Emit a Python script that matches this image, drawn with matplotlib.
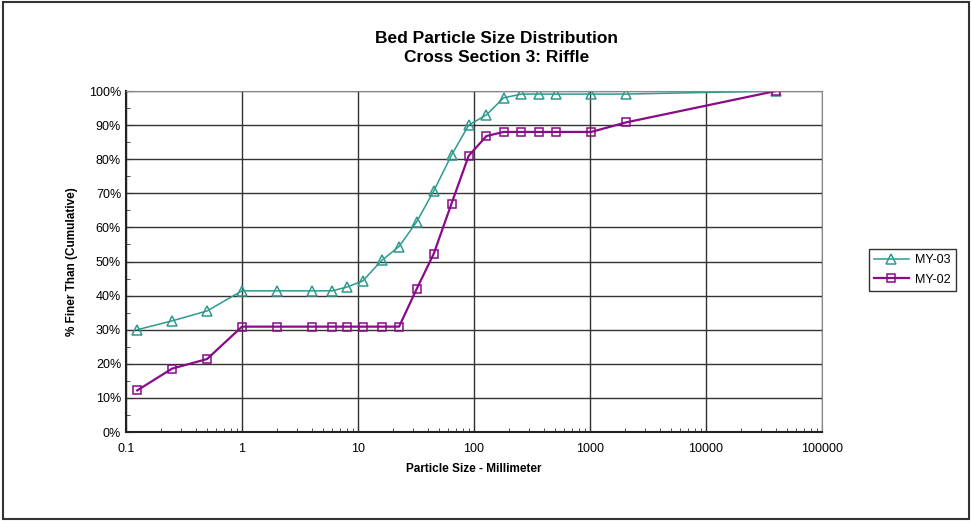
import numpy as np
import matplotlib.pyplot as plt
from matplotlib.ticker import FixedLocator, FuncFormatter, LogLocator, NullFormatter

plt.rcParams['font.family'] = ['Liberation Sans', 'DejaVu Sans']

# sieve sizes (mm) and cumulative percent finer
size = [0.125, 0.25, 0.5, 1, 2, 4, 6, 8, 11, 16, 22.6, 32, 45, 64, 90, 128,
        180, 256, 362, 512, 1024, 2048, 40000]
my03 = [30, 32.6, 35.5, 41.4, 41.4, 41.4, 41.4, 42.5, 44.3, 50.3, 54.4, 61.6,
        70.7, 81.2, 90, 93, 98, 99.1, 99.1, 99.1, 99.1, 99.1, 100]
my02 = [12.2, 18.6, 21.4, 30.9, 30.9, 30.9, 30.9, 30.9, 30.9, 30.9, 30.9, 41.9,
        52.3, 67, 81, 86.8, 88, 88, 88, 88, 88, 90.8, 100]

xticks = [0.1, 1, 10, 100, 1000, 10000, 100000]
xticklabels = ['0.1', '1', '10', '100', '1000', '10000', '100000']

fig = plt.figure(figsize=(9.72, 5.21), dpi=100)
ax = fig.add_axes([0.1296, 0.1708, 0.7161, 0.6545])

ax.plot(size, my03, color='#2e9a8e', lw=1.1, marker='^', ms=7, mfc='none',
        mec='#2e9a8e', mew=1.1, label='MY-03')
ax.plot(size, my02, color='#8a0a8a', lw=1.6, marker='s', ms=6, mfc='none',
        mec='#8a0a8a', mew=1.1, label='MY-02')

ax.set_xscale('log')
ax.set_xlim(0.1, 100000)
ax.set_ylim(0, 100)
ax.xaxis.set_major_locator(FixedLocator(xticks))
ax.xaxis.set_major_formatter(FuncFormatter(lambda v, p: xticklabels[xticks.index(v)] if v in xticks else ''))
ax.xaxis.set_minor_locator(LogLocator(base=10, subs=np.arange(2, 10)))
ax.xaxis.set_minor_formatter(NullFormatter())
ax.set_yticks(np.arange(0, 101, 10))
ax.set_yticks(np.arange(5, 100, 10), minor=True)
ax.set_yticklabels(['%d%%' % v for v in range(0, 101, 10)])

ax.grid(True, which='major', color='#333333', lw=1.0)
ax.tick_params(which='major', direction='in', length=5, labelsize=9, color='#333333')
ax.tick_params(which='minor', direction='in', length=3, color='#333333')
ax.tick_params(axis='x', pad=8)
for s in ['top', 'right']:
    ax.spines[s].set_color('#888888')
for s in ['left', 'bottom']:
    ax.spines[s].set_color('#222222')
    ax.spines[s].set_linewidth(1.5)

ax.set_xlabel('Particle Size - Millimeter', fontsize=8.5, fontweight='bold', labelpad=6)
ax.set_ylabel('% Finer Than (Cumulative)', fontsize=8.5, fontweight='bold', labelpad=8)
fig.text(0.511, 0.908, 'Bed Particle Size Distribution\nCross Section 3: Riffle',
         ha='center', va='center', fontsize=12.5, fontweight='bold', linespacing=1.3)

leg = ax.legend(loc='center left', bbox_to_anchor=(1.058, 0.475), fontsize=9,
                frameon=True, fancybox=False, edgecolor='black', borderpad=0.4,
                handlelength=2.8, handletextpad=0.5, labelspacing=0.6)
leg.get_frame().set_linewidth(1.0)

# outer frame of the chart
fig.patches.append(plt.Rectangle((0.003, 0.004), 0.994, 0.992, transform=fig.transFigure,
                                 fill=False, edgecolor='#333333', lw=1.5))

fig.savefig('out.png', dpi=100)
